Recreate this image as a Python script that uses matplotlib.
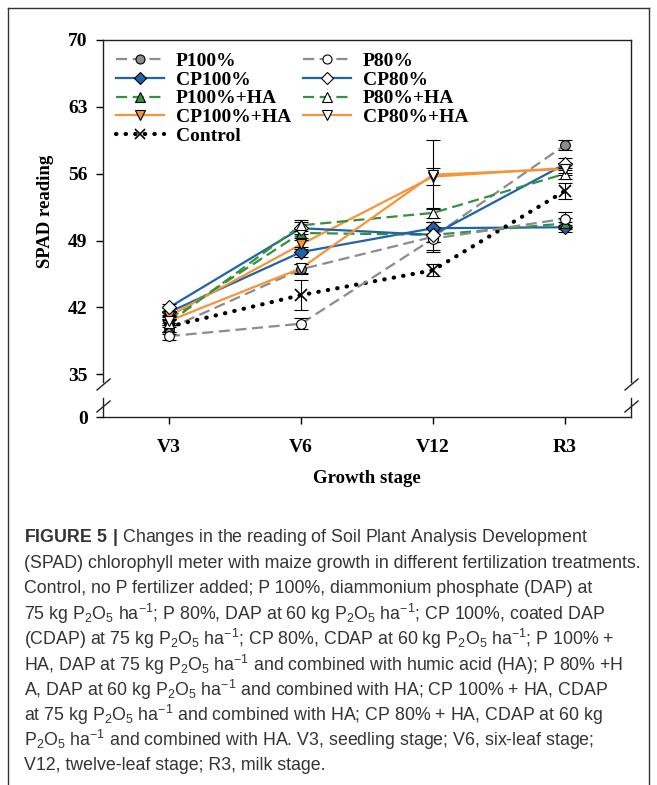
import matplotlib
matplotlib.use("Agg")
import matplotlib.pyplot as plt
from matplotlib.lines import Line2D


# =========================
# Data
# =========================
stages = ["V3", "V6", "V12", "R3"]

p100 = [39.8, 46.0, 49.4, 59.0]
p80 = [39.0, 40.3, 49.2, 51.3]
cp100 = [41.5, 47.8, 50.3, 50.4]
cp80 = [42.0, 50.3, 49.6, 57.0]
p100_ha = [40.8, 49.8, 49.6, 50.8]
p80_ha = [40.4, 50.6, 51.9, 56.0]
cp100_ha = [41.1, 48.6, 55.7, 56.6]
cp80_ha = [40.6, 46.1, 55.9, 56.5]
control = [40.0, 43.3, 45.9, 54.2]

p100_err = [0.4, 0.5, 1.6, 0.5]
p80_err = [0.4, 0.6, 1.2, 0.7]
cp100_err = [0.4, 0.5, 0.6, 0.5]
cp80_err = [0.4, 0.6, 0.7, 0.6]
p100_ha_err = [0.4, 0.5, 0.7, 0.6]
p80_ha_err = [0.4, 0.6, 0.5, 0.6]
cp100_ha_err = [0.4, 0.5, 0.9, 0.5]
cp80_ha_err = [0.4, 0.5, 3.6, 0.6]
control_err = [0.8, 1.6, 0.6, 0.8]

y_ticks = [35, 42, 49, 56, 63, 70]

GRAY = "#8c8c8c"
BLUE = "#1f63a8"
GREEN = "#34923f"
ORANGE = "#f7943a"

SERIF = "Liberation Serif"
SANS = "Liberation Sans"

# label, values, errors, color, linestyle, marker, facecolor
series = [
    ("P100%", p100, p100_err, GRAY, (0, (5, 2.5)), "o", GRAY),
    ("CP100%", cp100, cp100_err, BLUE, "-", "D", BLUE),
    ("P100%+HA", p100_ha, p100_ha_err, GREEN, (0, (5, 2.5)), "^", GREEN),
    ("CP100%+HA", cp100_ha, cp100_ha_err, ORANGE, "-", "v", ORANGE),
    ("Control", control, control_err, "black", (0, (0.1, 2.2)), "x", "black"),
    ("P80%", p80, p80_err, GRAY, (0, (5, 2.5)), "o", "white"),
    ("CP80%", cp80, cp80_err, BLUE, "-", "D", "white"),
    ("P80%+HA", p80_ha, p80_ha_err, GREEN, (0, (5, 2.5)), "^", "white"),
    ("CP80%+HA", cp80_ha, cp80_ha_err, ORANGE, "-", "v", "white"),
]

plt.rcParams["mathtext.fontset"] = "custom"
plt.rcParams["mathtext.rm"] = SANS
plt.rcParams["mathtext.bf"] = SANS + ":bold"


# =========================
# Figure / axes
# =========================
W, H = 657, 785
fig = plt.figure(figsize=(W / 100, H / 100), dpi=100)


def px_box(left, top, right, bottom):
    return [left / W, 1 - bottom / H, (right - left) / W, (bottom - top) / H]


ax = fig.add_axes(px_box(103, 40, 631, 382))
ax_low = fig.add_axes(px_box(103, 398, 631, 417))

x = list(range(len(stages)))

handles = []
for label, vals, errs, color, ls, marker, face in series:
    is_ctrl = label == "Control"
    lw = 3.0 if is_ctrl else 1.6
    ax.errorbar(
        x, vals, yerr=errs, fmt="none", ecolor="black",
        elinewidth=0.8, capsize=5, capthick=0.8, zorder=4,
    )
    ax.plot(
        x, vals, linestyle=ls, color=color, linewidth=lw,
        dash_capstyle="round" if is_ctrl else "butt", zorder=3,
    )
    ax.plot(
        x, vals, linestyle="none", marker=marker,
        markersize=8 if is_ctrl else 7,
        markerfacecolor=face, markeredgecolor="black",
        markeredgewidth=1.2 if is_ctrl else 0.8, zorder=5,
    )
    handles.append(Line2D(
        [], [], linestyle=ls, color=color, linewidth=lw,
        dash_capstyle="round" if is_ctrl else "butt",
        marker=marker, markersize=7 if is_ctrl else 6.5,
        markerfacecolor=face, markeredgecolor="black",
        markeredgewidth=1.2 if is_ctrl else 0.8, label=label,
    ))

ax.set_xlim(-0.5, 3.5)
ax.set_ylim(34.2, 70)
ax.set_yticks(y_ticks)
ax.set_xticks([])
ax.spines["bottom"].set_visible(False)

ax_low.set_xlim(-0.5, 3.5)
ax_low.set_ylim(0, 2)
ax_low.set_yticks([0])
ax_low.set_xticks(x)
ax_low.set_xticklabels(stages)
ax_low.spines["top"].set_visible(False)

for a in (ax, ax_low):
    for s in a.spines.values():
        s.set_linewidth(1.0)
        s.set_color("#222222")
    a.tick_params(axis="y", direction="out", length=5, width=1.0, pad=6)
    a.tick_params(axis="x", direction="out", length=5, width=1.0, pad=11)
    for t in a.get_yticklabels() + a.get_xticklabels():
        t.set_fontfamily(SERIF)
        t.set_fontweight("bold")
        t.set_fontsize(14)

ax.set_ylabel("SPAD reading", fontfamily=SERIF, fontweight="bold",
              fontsize=13.5, labelpad=10)
ax_low.set_xlabel("Growth stage", fontfamily=SERIF, fontweight="bold",
                  fontsize=13.5, labelpad=10)

# axis break marks
for xb in (103, 631):
    for y0 in (390, 412):
        fig.add_artist(Line2D(
            [(xb - 6) / W, (xb + 7) / W], [1 - y0 / H, 1 - (y0 - 11) / H],
            transform=fig.transFigure, color="#222222", linewidth=1.0,
        ))

leg = ax.legend(
    handles=handles, ncol=2, loc="upper left", frameon=False,
    bbox_to_anchor=(0.0, 1.0), handlelength=2.5, handletextpad=0.6,
    columnspacing=0.6, labelspacing=0.05, borderaxespad=0.25,
    prop={"family": SERIF, "weight": "bold", "size": 14},
)

# =========================
# Outer frame and caption
# =========================
for xs, ys in (([8, 8], [8, 790]), ([8, 649], [8, 8]), ([649, 649], [8, 790])):
    fig.add_artist(Line2D(
        [v / W for v in xs], [1 - v / H for v in ys],
        transform=fig.transFigure, color="#333333", linewidth=1.0,
    ))

P2O5 = r"P$_2$O$_5$ ha$^{-1}$"
caption = [
    r"$\mathbf{FIGURE\ 5\ |}$ Changes in the reading of Soil Plant Analysis Development",
    "(SPAD) chlorophyll meter with maize growth in different fertilization treatments.",
    "Control, no P fertilizer added; P 100%, diammonium phosphate (DAP) at",
    f"75 kg {P2O5}; P 80%, DAP at 60 kg {P2O5}; CP 100%, coated DAP",
    f"(CDAP) at 75 kg {P2O5}; CP 80%, CDAP at 60 kg {P2O5}; P 100% +",
    f"HA, DAP at 75 kg {P2O5} and combined with humic acid (HA); P 80% +H",
    f"A, DAP at 60 kg {P2O5} and combined with HA; CP 100% + HA, CDAP",
    f"at 75 kg {P2O5} and combined with HA; CP 80% + HA, CDAP at 60 kg",
    f"{P2O5} and combined with HA. V3, seedling stage; V6, six-leaf stage;",
    "V12, twelve-leaf stage; R3, milk stage.",
]
for i, line in enumerate(caption):
    yc = 538 + i * 25.3
    fig.text(24 / W, 1 - yc / H, line, ha="left", va="center",
             fontsize=12.8, color="#333333", family=SANS)

fig.savefig("out.png", dpi=100)
